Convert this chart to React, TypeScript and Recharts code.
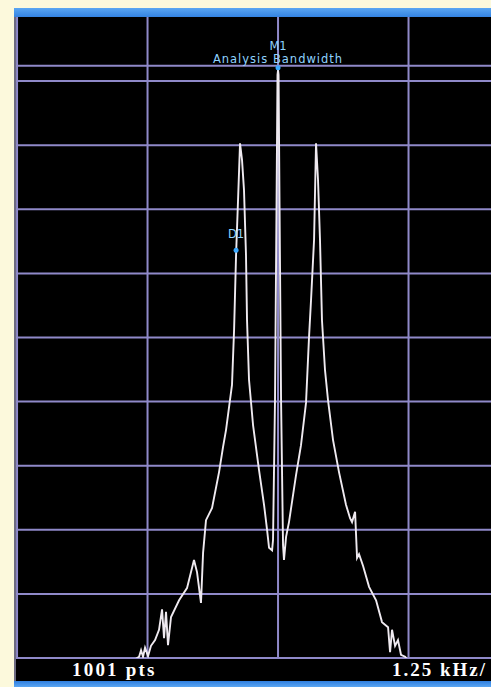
import React from "react";
import {
  LineChart,
  Line,
  XAxis,
  YAxis,
  ReferenceLine,
  ReferenceDot,
  Label,
} from "recharts";

// Frequency offset from centre (kHz) and trace level (dB, 10 dB/div)
const freqKHz = [
  -1.408, -1.331, -1.312, -1.293, -1.274, -1.245, -1.217, -1.178, -1.14, -1.111,
  -1.092, -1.073, -1.054, -1.025, -0.948, -0.872, -0.805, -0.776, -0.738, -0.718,
  -0.69, -0.632, -0.565, -0.527, -0.498, -0.441, -0.421, -0.402, -0.383, -0.364,
  -0.345, -0.326, -0.307, -0.297, -0.278, -0.239, -0.182, -0.134, -0.105, -0.086,
  -0.057, -0.048, -0.029, -0.014, -0.005, 0, 0.005, 0.014, 0.029, 0.048,
  0.057, 0.077, 0.105, 0.172, 0.22, 0.268, 0.297, 0.316, 0.345, 0.364,
  0.383, 0.402, 0.421, 0.45, 0.479, 0.527, 0.584, 0.651, 0.69, 0.709,
  0.738, 0.757, 0.776, 0.814, 0.872, 0.939, 0.996, 1.054, 1.073, 1.092,
  1.121, 1.149, 1.178, 1.217, 1.255,
];
const levelDb = [
  -100.6, -99.8, -98.8, -99.8, -98.4, -99.7, -98.1, -97.2, -95.6, -92.4,
  -96.9, -92.8, -98.0, -93.6, -91.0, -89.1, -84.7, -86.6, -91.4, -83.6,
  -78.5, -76.6, -71.0, -67.1, -64.4, -57.4, -48.8, -37.1, -28.5, -19.7,
  -22.3, -27.0, -37.1, -47.3, -56.6, -63.7, -70.7, -76.1, -80.0, -82.8,
  -83.2, -81.6, -59.8, -28.5, -9.0, -8.3, -9.0, -28.5, -59.8, -82.4,
  -84.7, -81.1, -78.8, -71.5, -66.8, -60.2, -49.9, -44.2, -34.8, -19.7,
  -25.4, -34.8, -47.3, -55.1, -59.8, -66.0, -71.0, -76.1, -78.2, -78.8,
  -77.2, -84.4, -83.8, -85.6, -88.9, -91.0, -94.4, -95.2, -99.1, -95.6,
  -98.1, -97.2, -99.5, -99.8, -100.6,
];

const xTicks = [-2.5, -1.25, 0, 1.25];
const yTicks = [-100, -90, -80, -70, -60, -50, -40, -30, -20, -10];
const displayLineDb = -7.6;
const marker1 = { f: 0, db: -7.9, name: "M1", note: "Analysis Bandwidth" };
const delta1 = { f: -0.402, db: -36.4, name: "D1" };
const footerLeft = "1001 pts";
const footerRight = "1.25 kHz/";

const rows = freqKHz.map((f, i) => ({ f, db: levelDb[i] }));

const GRID = "#8f89c9";
const TRACE = "#efeaf0";
const MARK = "#8fd3ff";

export default function App() {
  return (
    <div
      style={{
        position: "absolute",
        left: 0,
        top: 0,
        width: 491,
        height: 687,
        background: "#fcf9dc",
        overflow: "hidden",
      }}
    >
      <div
        style={{
          position: "absolute",
          left: 14,
          top: 8,
          width: 477,
          height: 10,
          background: "linear-gradient(#5aa6f2, #2f7fe0)",
        }}
      />
      <div
        style={{
          position: "absolute",
          left: 14,
          top: 17,
          width: 477,
          height: 665,
          background: "#000",
          borderLeft: "2px solid #6c6a80",
          boxSizing: "border-box",
        }}
      />
      <div
        style={{
          position: "absolute",
          left: 14,
          top: 681,
          width: 477,
          height: 6,
          background: "linear-gradient(#2f7fe0, #5aa6f2)",
        }}
      />
      <div style={{ position: "absolute", left: 0, top: 0 }}>
        <LineChart
          width={491}
          height={687}
          data={rows}
          margin={{ top: 17, right: 0, bottom: 29, left: 16 }}
        >
          <XAxis
            type="number"
            dataKey="f"
            domain={[-2.51, 2.04]}
            ticks={xTicks}
            allowDataOverflow
            hide
          />
          <YAxis
            type="number"
            domain={[-100, 0]}
            ticks={yTicks}
            allowDataOverflow
            hide
          />
          {yTicks.map((t) => (
            <ReferenceLine key={"h" + t} y={t} stroke={GRID} strokeWidth={2} />
          ))}
          {xTicks.map((t) => (
            <ReferenceLine key={"v" + t} x={t} stroke={GRID} strokeWidth={2} />
          ))}
          <ReferenceLine y={displayLineDb} stroke={GRID} strokeWidth={2} />
          <Line
            type="linear"
            dataKey="db"
            stroke={TRACE}
            strokeWidth={1.9}
            dot={false}
            isAnimationActive={false}
          />
          <ReferenceDot
            x={marker1.f}
            y={marker1.db}
            r={2.5}
            fill="#3aa8ff"
            stroke="none"
          >
            <Label
              value={marker1.note}
              position="top"
              offset={2}
              fill={MARK}
              fontSize={11.5}
              fontFamily="DejaVu Sans"
              letterSpacing={1}
            />
            <Label
              value={marker1.name}
              position="top"
              offset={15}
              fill={MARK}
              fontSize={11.5}
              fontFamily="DejaVu Sans"
            />
          </ReferenceDot>
          <ReferenceDot
            x={delta1.f}
            y={delta1.db}
            r={2.5}
            fill="#3aa8ff"
            stroke="none"
          >
            <Label
              value={delta1.name}
              position="top"
              offset={10}
              fill={MARK}
              fontSize={11.5}
              fontFamily="DejaVu Sans"
            />
          </ReferenceDot>
        </LineChart>
      </div>
      <div
        style={{
          position: "absolute",
          left: 72,
          top: 659,
          color: "#fff",
          fontFamily: "Liberation Serif",
          fontWeight: "bold",
          fontSize: 19,
          letterSpacing: 2.2,
          whiteSpace: "nowrap",
        }}
      >
        {footerLeft}
      </div>
      <div
        style={{
          position: "absolute",
          left: 392,
          top: 659,
          color: "#fff",
          fontFamily: "Liberation Serif",
          fontWeight: "bold",
          fontSize: 19,
          letterSpacing: 2,
          whiteSpace: "nowrap",
        }}
      >
        {footerRight}
      </div>
    </div>
  );
}
